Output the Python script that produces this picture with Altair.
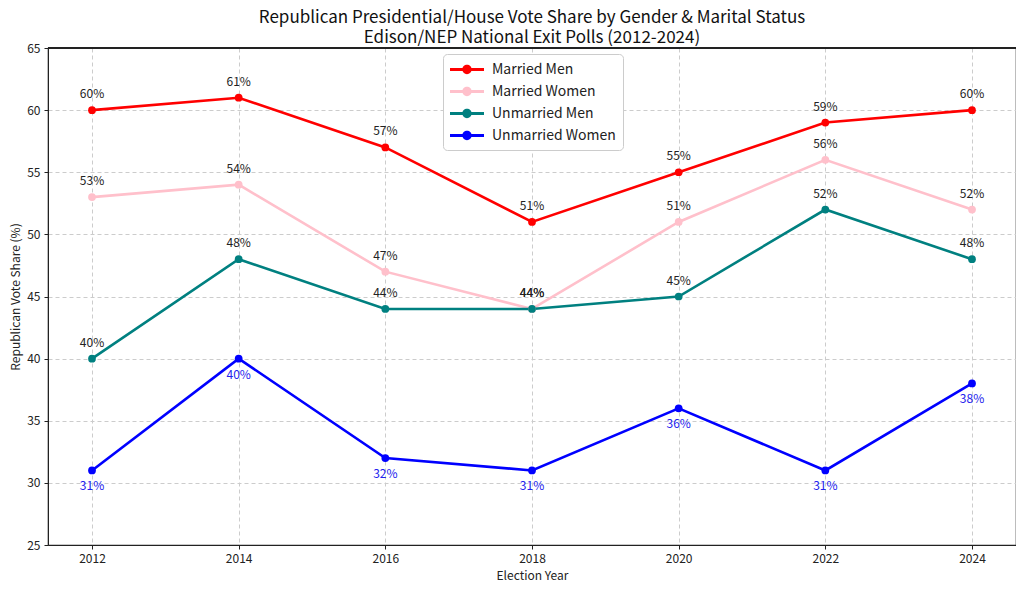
import altair as alt
import pandas as pd

years = [2012, 2014, 2016, 2018, 2020, 2022, 2024]
series_names = ["Married Men", "Married Women", "Unmarried Men", "Unmarried Women"]
married_men = [60, 61, 57, 51, 55, 59, 60]
married_women = [53, 54, 47, 44, 51, 56, 52]
unmarried_men = [40, 48, 44, 44, 45, 52, 48]
unmarried_women = [31, 40, 32, 31, 36, 31, 38]
colors = ["#ff0000", "#ffc0cb", "#008080", "#0000ff"]

rows = []
for name, vals in zip(series_names, [married_men, married_women, unmarried_men, unmarried_women]):
    for y, v in zip(years, vals):
        rows.append({"Year": y, "Share": v, "Series": name})
df = pd.DataFrame(rows)

FONT = "Noto Sans CJK JP"

x = alt.X("Year:Q", scale=alt.Scale(domain=[2011.4, 2024.6], nice=False, zero=False),
          axis=alt.Axis(values=years, format="d", title="Election Year"))
y = alt.Y("Share:Q", scale=alt.Scale(domain=[25, 65], nice=False, zero=False),
          axis=alt.Axis(values=[25, 30, 35, 40, 45, 50, 55, 60, 65], title="Republican Vote Share (%)"))

sym_path = "M-1,-0.18H3V0.18H-1Z M1.55,0A0.55,0.55 0 1,1 0.45,0A0.55,0.55 0 1,1 1.55,0Z"

color_scale = alt.Scale(domain=series_names, range=colors)

base = alt.Chart(df)

lines = base.mark_line(strokeWidth=2.6).encode(
    x=x, y=y,
    color=alt.Color("Series:N", scale=color_scale, legend=None),
    detail="Series:N",
)

points = base.mark_point(filled=True, size=60, opacity=1).encode(
    x=x, y=y,
    color=alt.Color("Series:N", scale=color_scale, sort=series_names,
                    legend=alt.Legend(title=None, orient="none", legendX=395, legendY=6,
                                      symbolType=sym_path, symbolSize=289, symbolStrokeWidth=0,
                                      labelOffset=25, labelFontSize=14, labelFont=FONT,
                                      labelColor="#222222", rowPadding=6, padding=7,
                                      strokeColor="#cccccc", fillColor="white",
                                      cornerRadius=4)),
)

labels_top = base.transform_filter(
    alt.datum.Series != "Unmarried Women"
).transform_calculate(
    lab="datum.Share + '%'"
).mark_text(dy=-16, fontSize=12, font=FONT, color="#222222").encode(
    x=x, y=y, text="lab:N"
)

labels_bottom = base.transform_filter(
    alt.datum.Series == "Unmarried Women"
).transform_calculate(
    lab="datum.Share + '%'"
).mark_text(dy=16, fontSize=12, font=FONT, color="#2222ee").encode(
    x=x, y=y, text="lab:N"
)

top_frame = alt.Chart(df).mark_rule(color="#222222", strokeWidth=1.2).encode(
    x=alt.value(0), x2=alt.value(968), y=alt.value(0)
)

chart = alt.layer(lines, points, labels_top, labels_bottom, top_frame).resolve_scale(
    color="independent"
).properties(
    width=968, height=497,
    title=alt.TitleParams(
        ["Republican Presidential/House Vote Share by Gender & Marital Status",
         "Edison/NEP National Exit Polls (2012-2024)"],
        fontSize=17, font=FONT, fontWeight="normal", anchor="middle", color="#111111",
        offset=-5, lineHeight=20),
    autosize=alt.AutoSizeParams(type="none"),
    padding={"left": 40, "top": 40, "right": 0, "bottom": 40},
).configure_view(
    stroke="#222222", strokeWidth=1.2
).configure_axis(
    labelFont=FONT, titleFont=FONT, labelFontSize=12, titleFontSize=12,
    titleFontWeight="normal", labelColor="#222222", titleColor="#222222",
    gridDash=[4, 3], gridColor="#cccccc", domainColor="#222222", tickColor="#222222",
    tickSize=4, labelPadding=4,
).configure_axisX(titlePadding=6).configure_axisY(titlePadding=4)

chart.save("out.html", embed_options={"renderer": "svg", "actions": False})
